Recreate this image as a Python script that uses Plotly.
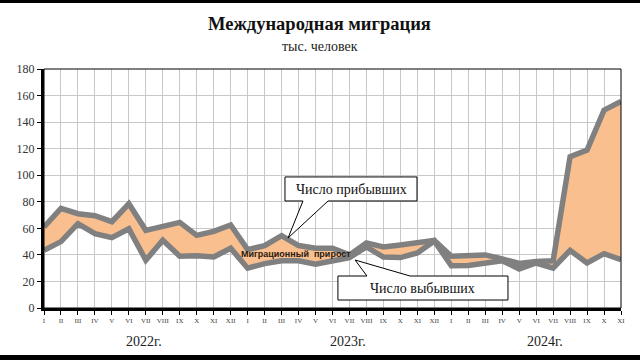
import plotly.graph_objects as go

roman = ["I", "II", "III", "IV", "V", "VI", "VII", "VIII", "IX", "X", "XI", "XII"]
month_labels = roman + roman + roman[:11]
years = ["2022г.", "2023г.", "2024г."]

arrivals = [61, 75, 71, 69.5, 65, 78.5, 58.5, 62, 64.5, 54.7, 57.7, 62.5,
            44, 47, 54.5, 47, 45, 45, 40, 49, 46, 47.5, 49, 51,
            39, 40, 40, 37, 33.5, 35, 35.5, 114, 119, 149, 155.6]
departures = [43.5, 50, 63.5, 56, 53, 59.7, 36, 51, 39, 39.4, 38.4, 45,
              30, 33.4, 35.6, 35.6, 33, 35.6, 38, 46, 38.4, 38, 41.4, 50.5,
              31.8, 32.1, 33.4, 35.6, 29.4, 33.9, 30.1, 43.4, 33.9, 40.9, 36.4]

x = list(range(len(month_labels)))

GRAY = "#808080"
FILL = "#F9BF8F"
SERIF = "Liberation Serif"

fig = go.Figure()
fig.add_trace(go.Scatter(x=x, y=departures, mode="lines", line=dict(width=0, color=GRAY),
                         hoverinfo="skip", showlegend=False))
fig.add_trace(go.Scatter(x=x, y=arrivals, mode="lines", line=dict(width=0, color=GRAY),
                         fill="tonexty", fillcolor=FILL, hoverinfo="skip", showlegend=False))
fig.add_trace(go.Scatter(x=x, y=departures, mode="lines", line=dict(width=5.5, color=GRAY),
                         hoverinfo="skip", showlegend=False))
fig.add_trace(go.Scatter(x=x, y=arrivals, mode="lines", line=dict(width=5.5, color=GRAY),
                         hoverinfo="skip", showlegend=False))

shapes = []
# callout boxes
shapes.append(dict(type="path", xref="x", yref="y", layer="above",
                   path="M 14.2,98.7 L 21.98,98.7 L 21.98,80.6 L 16.74,80.6 L 14.38,52.7 L 15.26,80.6 L 14.2,80.6 Z",
                   fillcolor="white", line=dict(color="black", width=1)))
shapes.append(dict(type="path", xref="x", yref="y", layer="above",
                   path="M 17.32,24.1 L 19.03,24.1 L 18.33,36.15 L 21.57,24.1 L 27.34,24.1 L 27.34,6.0 L 17.32,6.0 Z",
                   fillcolor="white", line=dict(color="black", width=1)))
# plot frame (top/right thin)
shapes.append(dict(type="rect", xref="paper", yref="paper", x0=0, x1=1, y0=0, y1=1,
                   line=dict(color="black", width=1), layer="above"))
# image black bars top/bottom
shapes.append(dict(type="rect", xref="paper", yref="paper", x0=-0.08, x1=1.04, y0=1.276, y1=1.30,
                   fillcolor="black", line=dict(width=0)))
shapes.append(dict(type="rect", xref="paper", yref="paper", x0=-0.08, x1=1.04, y0=-0.23, y1=-0.1967,
                   fillcolor="black", line=dict(width=0)))

annotations = [
    dict(text="<b>Международная миграция</b>", xref="paper", yref="paper", x=0.478, y=1.19,
         showarrow=False, font=dict(family=SERIF, size=18.5, color="#111"), yanchor="middle"),
    dict(text="тыс. человек", xref="paper", yref="paper", x=0.478, y=1.095,
         showarrow=False, font=dict(family=SERIF, size=14, color="#222"), yanchor="middle"),
    dict(text="Число прибывших", xref="x", yref="y", x=18.09, y=89.6, showarrow=False,
         font=dict(family=SERIF, size=14, color="#111")),
    dict(text="Число выбывших", xref="x", yref="y", x=22.33, y=15.0, showarrow=False,
         font=dict(family=SERIF, size=14, color="#111")),
    dict(text="<b>Миграционный  прирост</b>", xref="x", yref="y", x=14.85, y=40.3, showarrow=False,
         font=dict(family="Liberation Sans", size=9, color="#2a1a10")),
]
year_x = [5.9, 17.9, 29.5]
for yx, yt in zip(year_x, years):
    annotations.append(dict(text=yt, xref="x", yref="paper", x=yx, y=-0.14, showarrow=False,
                            font=dict(family=SERIF, size=14, color="#222"), yanchor="middle"))

fig.update_layout(
    width=640, height=360,
    margin=dict(l=44, r=19, t=69, b=52),
    paper_bgcolor="white", plot_bgcolor="white",
    hovermode=False,
    shapes=shapes,
    annotations=annotations,
    xaxis=dict(range=[0, 34], tickmode="array", tickvals=x, ticktext=month_labels,
               showgrid=True, gridcolor="#C8C8C8", gridwidth=1,
               showline=True, linecolor="black", linewidth=2.5,
               ticks="outside", ticklen=4, tickcolor="black", tickwidth=1,
               tickfont=dict(family=SERIF, size=7, color="#444"), zeroline=False, fixedrange=True),
    yaxis=dict(range=[0, 180], tickmode="array", tickvals=list(range(0, 181, 20)),
               showgrid=True, gridcolor="#C8C8C8", gridwidth=1,
               showline=True, linecolor="black", linewidth=3,
               ticks="outside", ticklen=4, tickcolor="black", tickwidth=1,
               tickfont=dict(family=SERIF, size=12, color="#333"), zeroline=False, fixedrange=True),
)

fig.write_html("out.html", config={"displayModeBar": False},
               post_script="document.body.style.margin='0';")
